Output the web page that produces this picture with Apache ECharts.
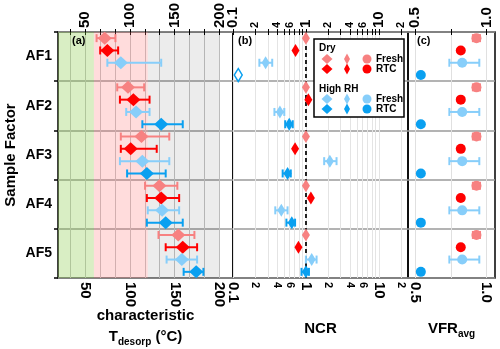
<!DOCTYPE html>
<html>
<head>
<meta charset="utf-8">
<script src="https://cdn.jsdelivr.net/npm/echarts@6/dist/echarts.min.js"></script>
<style>html,body{margin:0;padding:0;background:#fff}#chart{width:500px;height:349px}</style>
</head>
<body>
<div id="chart"></div>
<script>
var FONT = '"Liberation Sans", Arial, sans-serif';

var rows = ['AF1', 'AF2', 'AF3', 'AF4', 'AF5'];
// fresh dry, RTC dry, fresh high RH, RTC high RH
var groupColors = ['#f78181', '#ff0000', '#87cefa', '#0aa0f0'];

// (a) characteristic T_desorp (°C)
var tdFreshDry = [72, 98, 113, 133, 154];
var tdFreshDryLow = [63, 86, 90, 117, 132];
var tdFreshDryHigh = [84, 116, 144, 153, 172];
var tdRtcDry = [75, 104, 101, 135, 159];
var tdRtcDryLow = [67, 89, 90, 119, 140];
var tdRtcDryHigh = [87, 122, 130, 155, 175];
var tdFreshHrh = [90, 107, 114, 136, 158];
var tdFreshHrhLow = [75, 96, 89, 120, 141];
var tdFreshHrhHigh = [135, 122, 144, 155, 175];
var tdRtcHrh = [null, 135, 119, 140, 174];
var tdRtcHrhLow = [null, 114, 97, 119, 160];
var tdRtcHrhHigh = [null, 159, 140, 159, 182];
var tdBands = [[20, 60], [60, 120], [120, 200]];
var tdBandColors = ['rgba(130,200,60,0.3)', 'rgba(255,110,110,0.24)', 'rgba(0,0,0,0.075)'];
var tdTicks = [33.33, 50, 66.67, 83.33, 100, 116.67, 133.33, 150, 166.67, 183.33, 200];
var tdLabels = [50, 100, 150, 200];

// (b) NCR
var ncrFreshDry = [1, 1, 1, 1, 1];
var ncrRtcDry = [0.72, 1.08, 0.71, 1.17, 0.79];
var ncrFreshHrh = [0.28, 0.44, 2.13, 0.46, 1.2];
var ncrFreshHrhLow = [0.23, 0.37, 1.78, 0.38, 1.0];
var ncrFreshHrhHigh = [0.345, 0.505, 2.63, 0.56, 1.4];
var ncrRtcHrh = [0.118, 0.59, 0.56, 0.64, 1.0];
var ncrRtcHrhLow = [null, 0.52, 0.48, 0.54, 0.87];
var ncrRtcHrhHigh = [null, 0.66, 0.62, 0.71, 1.1];
var ncrRtcHrhOpen = [true, false, false, false, false];
var ncrTicks = [0.1, 0.2, 0.3, 0.4, 0.5, 0.6, 0.7, 0.8, 0.9, 1, 2, 3, 4, 5, 6, 7, 8, 9, 10, 20];
var ncrLabels = [0.1, 0.2, 0.4, 0.6, 1, 2, 4, 6, 10, 20];

// (c) VFR_avg
var vfrFreshDry = [0.93, 0.93, 0.93, 0.93, 0.93];
var vfrFreshDryLow = [0.905, 0.905, 0.905, 0.905, 0.905];
var vfrFreshDryHigh = [0.955, 0.955, 0.955, 0.955, 0.955];
var vfrRtcDry = [0.82, 0.82, 0.82, 0.82, 0.82];
var vfrFreshHrh = [0.83, 0.83, 0.83, 0.83, 0.83];
var vfrFreshHrhLow = [0.74, 0.74, 0.74, 0.74, 0.74];
var vfrFreshHrhHigh = [0.95, 0.95, 0.95, 0.95, 0.95];
var vfrRtcHrh = [0.54, 0.54, 0.54, 0.54, 0.54];
var vfrTicks = [0.5, 0.75, 1.0];
var vfrLabels = [0.5, 1.0];

function same(v) { return v; }
function slotY(i, k) { return i * 4 + k + 0.5; }

var panels = [
    {tf: same, symbol: 'diamond', size: [14, 13], groups: [
        [tdFreshDry, tdFreshDryLow, tdFreshDryHigh],
        [tdRtcDry, tdRtcDryLow, tdRtcDryHigh],
        [tdFreshHrh, tdFreshHrhLow, tdFreshHrhHigh],
        [tdRtcHrh, tdRtcHrhLow, tdRtcHrhHigh]]},
    {tf: Math.log10, symbol: 'diamond', size: [8, 13], groups: [
        [ncrFreshDry], [ncrRtcDry],
        [ncrFreshHrh, ncrFreshHrhLow, ncrFreshHrhHigh],
        [ncrRtcHrh, ncrRtcHrhLow, ncrRtcHrhHigh]], open: [null, null, null, ncrRtcHrhOpen]},
    {tf: same, symbol: 'circle', size: 10, groups: [
        [vfrFreshDry, vfrFreshDryLow, vfrFreshDryHigh],
        [vfrRtcDry], [vfrFreshHrh, vfrFreshHrhLow, vfrFreshHrhHigh], [vfrRtcHrh]]}
];

function errorBar(params, api) {
    var y = api.value(2);
    var p1 = api.coord([api.value(0), y]);
    var p2 = api.coord([api.value(1), y]);
    var st = {stroke: api.visual('color'), lineWidth: 2};
    var h = 4;
    return {type: 'group', children: [
        {type: 'line', shape: {x1: p1[0], y1: p1[1], x2: p2[0], y2: p2[1]}, style: st},
        {type: 'line', shape: {x1: p1[0], y1: p1[1] - h, x2: p1[0], y2: p1[1] + h}, style: st},
        {type: 'line', shape: {x1: p2[0], y1: p2[1] - h, x2: p2[0], y2: p2[1] + h}, style: st}
    ]};
}

var series = [];
// background bands in (a)
series.push({
    type: 'scatter', xAxisIndex: 0, yAxisIndex: 0, data: [], silent: true,
    markArea: {silent: true, z: 1, data: tdBands.map(function (b, i) {
        return [{xAxis: b[0], itemStyle: {color: tdBandColors[i]}}, {xAxis: b[1]}];
    })}
});
// NCR = 1 reference line
series.push({
    type: 'scatter', xAxisIndex: 2, yAxisIndex: 1, data: [], silent: true,
    markLine: {silent: true, symbol: 'none', z: 1, label: {show: false},
        lineStyle: {color: '#222', type: [4, 3], width: 2}, data: [{xAxis: 0}]}
});

panels.forEach(function (p, g) {
    p.groups.forEach(function (grp, k) {
        var color = groupColors[k];
        var vals = grp[0], lo = grp[1], hi = grp[2];
        if (lo) {
            var eb = [];
            lo.forEach(function (l, i) {
                if (l != null) eb.push([p.tf(l), p.tf(hi[i]), slotY(i, k)]);
            });
            series.push({type: 'custom', xAxisIndex: g * 2, yAxisIndex: g, renderItem: errorBar,
                itemStyle: {color: color}, encode: {x: [0, 1], y: 2}, data: eb, z: 3, silent: true});
        }
        var pts = [];
        vals.forEach(function (v, i) {
            if (v == null) return;
            var d = {value: [p.tf(v), slotY(i, k)]};
            if (p.open && p.open[k] && p.open[k][i]) {
                d.itemStyle = {color: '#fff', borderColor: color, borderWidth: 1.5};
            }
            pts.push(d);
        });
        series.push({type: 'scatter', xAxisIndex: g * 2, yAxisIndex: g, symbol: p.symbol,
            symbolSize: p.size, itemStyle: {color: color, opacity: 1}, data: pts, z: 4, silent: true});
    });
});

var labelBase = {rotate: -90, margin: 4, color: '#000', fontFamily: FONT, fontWeight: 'bold', fontSize: 15};

function makeX(grid, min, max, ticks, labels, fmt, rich, split, name, nameGap) {
    var axes = [];
    ['bottom', 'top'].forEach(function (pos) {
        axes.push({
            type: 'value', gridIndex: grid, position: pos, min: min, max: max,
            axisLine: {show: false},
            axisTick: {show: true, inside: true, length: 3, customValues: ticks, lineStyle: {color: '#000'}},
            axisLabel: Object.assign({customValues: labels, formatter: fmt, rich: rich}, labelBase),
            splitLine: {show: pos === 'bottom', lineStyle: {color: split, width: 1}},
            name: pos === 'bottom' ? name : '',
            nameLocation: 'middle', nameGap: nameGap, nameMoveOverlap: false,
            nameTextStyle: {color: '#000', fontFamily: FONT, fontWeight: 'bold', fontSize: 15,
                rich: {
                    a: {color: '#000', fontFamily: FONT, fontWeight: 'bold', fontSize: 15, lineHeight: 21, verticalAlign: 'middle'},
                    s: {color: '#000', fontFamily: FONT, fontWeight: 'bold', fontSize: 10, lineHeight: 10, verticalAlign: 'bottom'}
                }}
        });
    });
    return axes;
}

function ncrFmt(v) {
    var n = +Math.pow(10, v).toPrecision(2);
    if (Math.abs(v - Math.round(v)) < 1e-6) return '{M|' + n + '}';
    return '{m|' + String(n).replace('0.', '').replace('0', '') + '}';
}

var xAxis = []
    .concat(makeX(0, 20, 215, tdTicks, tdLabels, function (v) { return Math.round(v) + ''; }, null,
        '#c4c4c4', '{a|characteristic}\n{a|T}{s|desorp}{a| (°C)}', 27))
    .concat(makeX(1, -1, 1.4, ncrTicks.map(Math.log10), ncrLabels.map(Math.log10), ncrFmt,
        {M: {fontFamily: FONT, fontWeight: 'bold', fontSize: 15, color: '#000'},
         m: {fontFamily: FONT, fontWeight: 'bold', fontSize: 11, color: '#000'}},
        '#e4e4e4', '{a|NCR}', 40))
    .concat(makeX(2, 0.45, 1.06, vfrTicks, vfrLabels, function (v) { return v.toFixed(1); }, null,
        '#e0e0e0', '{a|VFR}{s|avg}', 40));

var yAxis = [0, 1, 2].map(function (g) {
    return {
        type: 'value', gridIndex: g, position: 'left', min: 0, max: 20, interval: 4, inverse: true,
        axisLabel: {show: false}, axisLine: {show: false},
        axisTick: {show: g === 0, inside: false, length: 4, lineStyle: {color: '#000', width: 1.5}},
        splitLine: {show: true, lineStyle: {color: '#9a9a9a', width: 1.5}}
    };
});
yAxis.push({
    type: 'category', gridIndex: 0, position: 'left', data: rows, inverse: true,
    axisLine: {show: false}, axisTick: {show: false}, splitLine: {show: false},
    axisLabel: {color: '#000', fontFamily: FONT, fontWeight: 'bold', fontSize: 14, margin: 6},
    name: 'Sample Factor', nameLocation: 'middle', nameGap: 40, nameRotate: 90,
    nameTextStyle: {color: '#000', fontFamily: FONT, fontWeight: 'bold', fontSize: 15}
});

var gridBase = {top: 32, bottom: 71, show: true, borderColor: '#000', borderWidth: 1.5,
    containLabel: false, outerBoundsMode: 'none'};
var grid = [
    Object.assign({left: 58, right: 267}, gridBase),
    Object.assign({left: 233, right: 92}, gridBase),
    Object.assign({left: 408, right: 5}, gridBase)
];

var titles = [['(a)', 72], ['(b)', 238], ['(c)', 417]].map(function (t) {
    return {text: t[0], left: t[1], top: 35, padding: 0,
        textStyle: {color: '#000', fontFamily: FONT, fontWeight: 'bold', fontSize: 11}};
});

// legend box inside (b)
var legendBox = {x: 314, y: 39, w: 90, h: 78};
var legendSections = [
    {title: 'Dry', y: 48, items: [{name: 'Fresh', k: 0, y: 59}, {name: 'RTC', k: 1, y: 69}]},
    {title: 'High RH', y: 89, items: [{name: 'Fresh', k: 2, y: 99}, {name: 'RTC', k: 3, y: 109}]}
];
function diamond(cx, cy, w, h) {
    return [[cx, cy - h / 2], [cx + w / 2, cy], [cx, cy + h / 2], [cx - w / 2, cy]];
}
var graphic = [{type: 'rect', z: 100, shape: {x: legendBox.x, y: legendBox.y, width: legendBox.w, height: legendBox.h},
    style: {fill: '#fff', stroke: '#000', lineWidth: 1.5}}];
legendSections.forEach(function (s) {
    graphic.push({type: 'text', z: 101, x: legendBox.x + 5, y: s.y,
        style: {text: s.title, fill: '#000', font: 'bold 10px ' + FONT, verticalAlign: 'middle'}});
    s.items.forEach(function (it) {
        var c = groupColors[it.k];
        graphic.push({type: 'polygon', z: 101, shape: {points: diamond(legendBox.x + 13, it.y, 11, 10)}, style: {fill: c}});
        graphic.push({type: 'polygon', z: 101, shape: {points: diamond(legendBox.x + 33, it.y, 6, 11)}, style: {fill: c}});
        graphic.push({type: 'circle', z: 101, shape: {cx: legendBox.x + 53, cy: it.y, r: 4.5}, style: {fill: c}});
        graphic.push({type: 'text', z: 101, x: legendBox.x + 62, y: it.y,
            style: {text: it.name, fill: '#000', font: 'bold 10px ' + FONT, verticalAlign: 'middle'}});
    });
});

var chart = echarts.init(document.getElementById('chart'), null, {renderer: 'canvas'});
chart.setOption({
    animation: false,
    backgroundColor: '#fff',
    textStyle: {fontFamily: FONT},
    title: titles,
    grid: grid,
    xAxis: xAxis,
    yAxis: yAxis,
    graphic: graphic,
    series: series
});
</script>
</body>
</html>
